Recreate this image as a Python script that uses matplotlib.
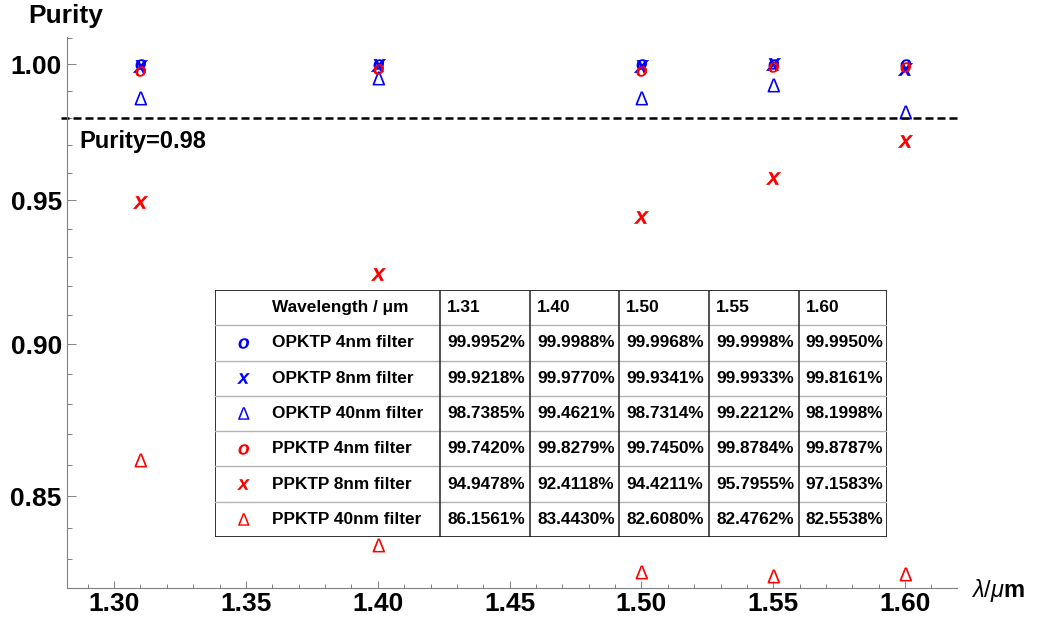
import numpy as np
import matplotlib
matplotlib.use("Agg")
from matplotlib import pyplot as plt
from matplotlib.textpath import TextPath
from matplotlib.font_manager import FontProperties
from matplotlib.path import Path
from matplotlib.ticker import FixedLocator, MultipleLocator, FormatStrFormatter, NullFormatter

plt.rcParams['font.family'] = ['Liberation Sans', 'DejaVu Sans']
plt.rcParams['font.weight'] = 'bold'
plt.rcParams['mathtext.fontset'] = 'custom'
plt.rcParams['mathtext.rm'] = 'Liberation Sans:normal'
plt.rcParams['mathtext.it'] = 'Liberation Sans:italic:normal'
plt.rcParams['mathtext.bf'] = 'Liberation Sans:bold'

wavelengths = [1.31, 1.40, 1.50, 1.55, 1.60]
series_names = ["OPKTP 4nm filter", "OPKTP 8nm filter", "OPKTP 40nm filter",
                "PPKTP 4nm filter", "PPKTP 8nm filter", "PPKTP 40nm filter"]
op4 = [99.9952, 99.9988, 99.9968, 99.9998, 99.9950]
op8 = [99.9218, 99.9770, 99.9341, 99.9933, 99.8161]
op40 = [98.7385, 99.4621, 98.7314, 99.2212, 98.1998]
pp4 = [99.7420, 99.8279, 99.7450, 99.8784, 99.8787]
pp8 = [94.9478, 92.4118, 94.4211, 95.7955, 97.1583]
pp40 = [86.1561, 83.4430, 82.6080, 82.4762, 82.5538]
threshold = 0.98


def glyph(ch, style='normal', weight='normal'):
    # text glyph as a centred marker path
    tp = TextPath((0, 0), ch, prop=FontProperties(family='Liberation Sans', style=style, weight=weight))
    v = tp.vertices
    c = (v.min(0) + v.max(0)) / 2
    return Path(v - c, tp.codes)


m_o = glyph('o', 'italic', 'bold')
m_x = glyph('x', 'italic', 'bold')
m_d = glyph('\u0394')

blue, red = (0, 0, 1), (1, 0, 0)
series = [(op4, m_o, blue, 8.0, 8.0), (op8, m_x, blue, 11.0, 9.2), (op40, m_d, blue, 10.0, 9.0),
          (pp4, m_o, red, 8.0, 8.0), (pp8, m_x, red, 11.0, 9.2), (pp40, m_d, red, 10.0, 9.0)]

fig = plt.figure(figsize=(10.37, 6.26), dpi=100)
ax = fig.add_axes([0.0643, 0.0607, 0.8588, 0.8797])
ax.set_yscale('log')
ax.set_xlim(1.282, 1.6198)
ax.set_ylim(0.8211, 1.0101)

for vals, mk, col, ms, _ in series:
    ax.plot(wavelengths, np.array(vals) / 100, linestyle='none', marker=mk, markersize=ms,
            markerfacecolor=col, markeredgewidth=0, clip_on=False)

ax.plot([1.2797, 1.62], [threshold, threshold], color='black', lw=1.8,
        dashes=[3.2, 1.6], clip_on=False)
ax.text(1.287, 0.9689, "Purity=%.2f" % threshold, fontsize=17, fontweight='bold', va='baseline')

ax.yaxis.set_major_locator(FixedLocator([0.85, 0.90, 0.95, 1.00]))
ax.yaxis.set_major_formatter(FormatStrFormatter('%.2f'))
ax.yaxis.set_minor_locator(FixedLocator(np.arange(0.82, 1.015, 0.01)))
ax.yaxis.set_minor_formatter(NullFormatter())
ax.xaxis.set_major_locator(MultipleLocator(0.05))
ax.xaxis.set_major_formatter(FormatStrFormatter('%.2f'))
ax.xaxis.set_minor_locator(MultipleLocator(0.01))

for s in ['top', 'right']:
    ax.spines[s].set_visible(False)
for s in ['left', 'bottom']:
    ax.spines[s].set_color('0.5')
    ax.spines[s].set_linewidth(0.8)

ax.tick_params(axis='both', which='both', direction='in', color='0.5', width=0.7, labelsize=19)
ax.tick_params(axis='y', which='major', length=6.5, pad=3.5)
ax.tick_params(axis='y', which='minor', length=3.6)
ax.tick_params(axis='x', which='major', length=5, pad=3)
ax.tick_params(axis='x', which='minor', length=2.9)
for lab in ax.get_xticklabels() + ax.get_yticklabels():
    lab.set_fontweight('bold')

fig.text(65.5 / 1037, 1 - 23 / 626, "Purity", fontsize=19, fontweight='bold', ha='center', va='baseline')
fig.text(971 / 1037, 1 - 590 / 626, r'$\lambda\mathrm{/}\mu\mathbf{m}$', fontsize=17, fontweight='normal',
         ha='left', va='center')

# table inset, in pixel units of the figure
tx0, tx1, ty0, ty1 = 215, 887.3, 290, 537
tab = fig.add_axes([tx0 / 1037, 1 - ty1 / 626, (tx1 - tx0) / 1037, (ty1 - ty0) / 626])
tab.set_xlim(tx0, tx1)
tab.set_ylim(ty1, ty0)
tab.axis('off')
tab.add_patch(plt.Rectangle((tx0, ty0), tx1 - tx0, ty1 - ty0, facecolor='white', edgecolor='none'))
col_edges = [440, 530, 619.3, 709.3, 798.7]
nrows = len(series_names) + 1
rh = (ty1 - ty0) / nrows
for i in range(1, nrows):
    tab.plot([tx0, tx1], [ty0 + i * rh] * 2, color='#b4b4b4', lw=1.0)
for cx in col_edges:
    tab.plot([cx, cx], [ty0, ty1], color='#222222', lw=1.1)
tab.add_patch(plt.Rectangle((tx0, ty0), tx1 - tx0, ty1 - ty0, facecolor='none',
                            edgecolor='#222222', lw=1.3))

starts = [c + 7 for c in col_edges]
yc = ty0 + rh / 2
tab.text(271.7, yc, "Wavelength / \u03bcm", fontsize=12.4, fontweight='bold', va='center')
for sx, w in zip(starts, wavelengths):
    tab.text(sx, yc, "%.2f" % w, fontsize=12.4, fontweight='bold', va='center')
for r, (name, (vals, mk, col, _, tms)) in enumerate(zip(series_names, series)):
    yc = ty0 + (r + 1.5) * rh
    tab.plot([243], [yc], linestyle='none', marker=mk, markersize=tms, markerfacecolor=col,
             markeredgewidth=0)
    tab.text(271.7, yc, name, fontsize=12.4, fontweight='bold', va='center')
    for sx, v in zip(starts, vals):
        tab.text(sx, yc, "%.4f%%" % v, fontsize=12.4, fontweight='bold', va='center')

fig.savefig("out.png", dpi=100)
